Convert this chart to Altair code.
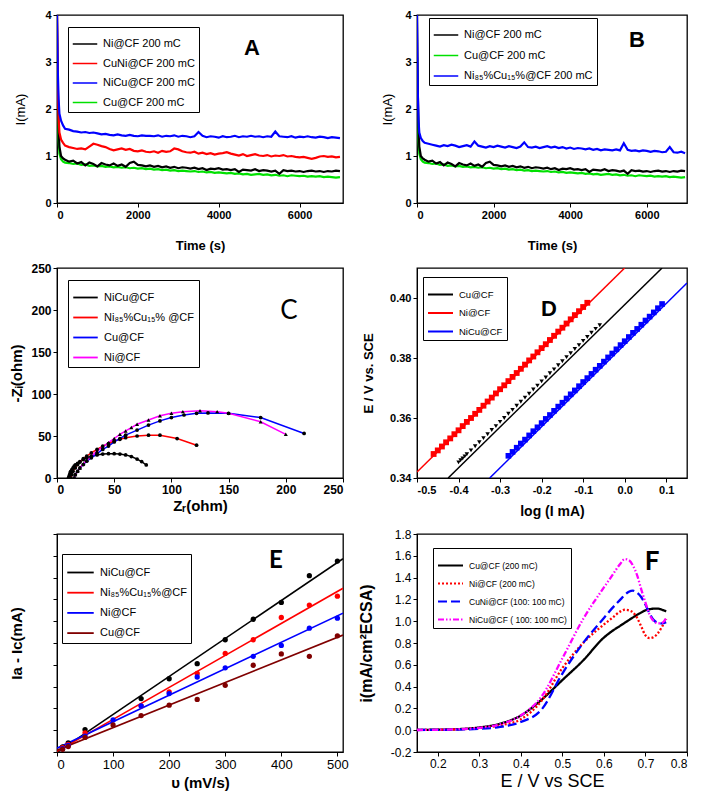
import altair as alt
import pandas as pd

FONT = "Liberation Sans"

# ---------------- Panel A / B : chronoamperometry ----------------
t_ab = [0, 20, 40, 60, 100, 150, 200] + list(range(300, 7001, 100))
ni_200 = [4.0, 2.4, 1.6, 1.2, 1.0, 0.95, 0.92,
          0.88, 0.90, 0.84, 0.87, 0.80, 0.86, 0.83, 0.78, 0.85, 0.82,
          0.80, 0.84, 0.79, 0.82, 0.77, 0.85, 0.88, 0.81, 0.80, 0.78,
          0.80, 0.77, 0.79, 0.76, 0.78, 0.75, 0.77, 0.74, 0.76, 0.75,
          0.73, 0.75, 0.72, 0.74, 0.70, 0.73, 0.72, 0.74, 0.71, 0.72,
          0.70, 0.72, 0.66, 0.71, 0.70, 0.69, 0.72, 0.68, 0.70, 0.69,
          0.67, 0.69, 0.62, 0.70, 0.68, 0.69, 0.67, 0.68, 0.66, 0.68,
          0.69, 0.67, 0.68, 0.66, 0.68, 0.67, 0.69, 0.68]
cu_200 = [3.1, 2.0, 1.35, 1.05, 0.93, 0.88, 0.86,
          0.85, 0.83, 0.84, 0.81, 0.82, 0.79, 0.80, 0.78, 0.79, 0.77,
          0.78, 0.76, 0.77, 0.75, 0.76, 0.74, 0.75, 0.73, 0.74, 0.72,
          0.73, 0.71, 0.72, 0.70, 0.71, 0.69, 0.70, 0.68, 0.69, 0.68,
          0.67, 0.68, 0.66, 0.67, 0.65, 0.66, 0.64, 0.65, 0.64, 0.63,
          0.64, 0.62, 0.63, 0.61, 0.62, 0.60, 0.61, 0.62, 0.60, 0.61,
          0.59, 0.60, 0.58, 0.59, 0.57, 0.59, 0.58, 0.57, 0.58, 0.56,
          0.57, 0.56, 0.57, 0.55, 0.56, 0.55, 0.54, 0.55]
cuni_200 = [4.0, 2.5, 1.8, 1.5, 1.35, 1.28, 1.22,
            1.19, 1.17, 1.15, 1.16, 1.14, 1.20, 1.26, 1.24, 1.21, 1.19,
            1.15, 1.12, 1.14, 1.16, 1.13, 1.15, 1.11, 1.10, 1.12, 1.09,
            1.08, 1.10, 1.07, 1.11, 1.09, 1.10, 1.16, 1.14, 1.10, 1.08,
            1.07, 1.09, 1.05, 1.07, 1.04, 1.06, 1.03, 1.05, 1.06, 1.08,
            1.05, 1.03, 1.01, 1.04, 1.00, 1.02, 1.04, 1.01, 1.00, 1.02,
            0.99, 1.01, 1.00, 1.02, 0.99, 1.00, 0.98, 0.97, 0.98, 0.96,
            0.94, 0.96, 0.99, 1.00, 0.98, 0.99, 0.97, 0.98]
nicu_200 = [4.0, 2.8, 2.2, 1.9, 1.75, 1.65, 1.58,
            1.56, 1.53, 1.52, 1.50, 1.51, 1.49, 1.50, 1.48, 1.46, 1.47,
            1.45, 1.44, 1.46, 1.44, 1.43, 1.45, 1.43, 1.42, 1.44, 1.43,
            1.43, 1.42, 1.44, 1.41, 1.43, 1.42, 1.44, 1.41, 1.43, 1.42,
            1.40, 1.42, 1.51, 1.43, 1.40, 1.42, 1.41, 1.39, 1.42, 1.40,
            1.41, 1.43, 1.40, 1.42, 1.41, 1.43, 1.41, 1.42, 1.40, 1.42,
            1.41, 1.52, 1.42, 1.41, 1.40, 1.42, 1.39, 1.41, 1.40, 1.42,
            1.40, 1.39, 1.41, 1.40, 1.38, 1.40, 1.39, 1.38]
ni85cu15_200 = [4.0, 2.4, 1.75, 1.5, 1.38, 1.32, 1.28,
                1.26, 1.24, 1.22, 1.20, 1.23, 1.21, 1.24, 1.22, 1.19, 1.21,
                1.23, 1.20, 1.31, 1.22, 1.20, 1.18, 1.21, 1.19, 1.22, 1.20,
                1.18, 1.21, 1.19, 1.17, 1.20, 1.29, 1.19, 1.18, 1.20, 1.17,
                1.19, 1.21, 1.18, 1.20, 1.17, 1.19, 1.16, 1.18, 1.15, 1.17,
                1.16, 1.14, 1.16, 1.13, 1.15, 1.12, 1.14, 1.13, 1.12, 1.14,
                1.12, 1.27, 1.13, 1.11, 1.12, 1.10, 1.12, 1.11, 1.09, 1.11,
                1.10, 1.08, 1.09, 1.19, 1.08, 1.07, 1.09, 1.06]

names_A = ["Ni@CF 200 mC", "CuNi@CF 200 mC", "NiCu@CF 200 mC", "Cu@CF 200 mC"]
colors_A = ["#000000", "#ff0000", "#0000ff", "#00e000"]
names_B = ["Ni@CF 200 mC", "Cu@CF 200 mC", "Ni\u2088\u2085%Cu\u2081\u2085%@CF 200 mC"]
colors_B = ["#000000", "#00e000", "#0000ff"]

# ---------------- Panel C : Nyquist ----------------
c_nicu_x = [10, 10.5, 11, 11.5, 12, 13, 14, 15, 16, 18, 20, 23, 26, 30, 35, 40, 45, 50, 55, 60, 65, 70, 74, 78]
c_nicu_y = [0, 2, 4, 6, 8, 10, 12, 14, 15.5, 17.5, 19.5, 22, 24, 26, 27.5, 28.5, 29, 29, 28.5, 27.5, 25.5, 22.5, 19.5, 15.5]
c_n85_x = [12, 13, 14, 16, 18, 20, 23, 26, 30, 35, 40, 45, 50, 55, 60, 70, 80, 90, 105, 122]
c_n85_y = [0, 4, 8, 12, 16, 19, 23, 26, 30, 34, 38, 41, 44, 46, 48, 50, 51, 51, 47, 39]
c_cu_x = [15, 16, 18, 20, 23, 26, 30, 35, 40, 45, 50, 55, 60, 70, 80, 90, 100, 111, 122, 132, 150, 178, 216]
c_cu_y = [0, 4, 8, 12, 16, 20, 24, 29, 34, 38, 43, 47, 51, 57, 63, 68, 72, 75, 77, 77.5, 77, 72, 53]
c_ni_x = [15, 16, 18, 20, 23, 26, 30, 35, 40, 45, 50, 55, 60, 65, 70, 80, 90, 100, 110, 125, 140, 150, 178, 200]
c_ni_y = [0, 4, 8, 12, 17, 21, 26, 32, 37, 42, 47, 52, 56, 60, 64, 69, 74, 77, 79, 80, 79, 77, 67, 52]
names_C = ["NiCu@CF", "Ni\u2088\u2085%Cu\u2081\u2085% @CF", "Cu@CF", "Ni@CF"]
colors_C = ["#000000", "#ff0000", "#0000ff", "#ff00ff"]

# ---------------- Panel D : Tafel ----------------
d_ni_x = [-0.46, -0.45, -0.44, -0.43, -0.42, -0.41, -0.40, -0.39, -0.38, -0.37, -0.36, -0.35, -0.34,
          -0.33, -0.32, -0.31, -0.30, -0.29, -0.28, -0.27, -0.26, -0.25, -0.24, -0.23, -0.22, -0.21,
          -0.20, -0.19, -0.18, -0.17, -0.16, -0.15, -0.14, -0.13, -0.12, -0.11, -0.10, -0.09]
d_ni_y = [0.3480, 0.3492, 0.3505, 0.3519, 0.3532, 0.3546, 0.3559, 0.3573, 0.3587, 0.3600, 0.3614, 0.3627, 0.3641,
          0.3655, 0.3668, 0.3682, 0.3696, 0.3709, 0.3723, 0.3737, 0.3750, 0.3764, 0.3778, 0.3792, 0.3805, 0.3819,
          0.3833, 0.3846, 0.3860, 0.3874, 0.3888, 0.3901, 0.3915, 0.3929, 0.3943, 0.3956, 0.3970, 0.3984]
d_cu_x = [-0.40, -0.395, -0.39, -0.385, -0.38, -0.37, -0.36, -0.35, -0.34, -0.33, -0.32, -0.31, -0.30, -0.29, -0.28,
          -0.27, -0.26, -0.25, -0.24, -0.23, -0.22, -0.21, -0.20, -0.19, -0.18, -0.17, -0.16, -0.15,
          -0.14, -0.13, -0.12, -0.11, -0.10, -0.09, -0.08, -0.07, -0.06]
d_cu_y = [0.3452, 0.3459, 0.3465, 0.3472, 0.3479, 0.3492, 0.3506, 0.3519, 0.3533, 0.3546, 0.3560, 0.3573, 0.3587,
          0.3600, 0.3614, 0.3627, 0.3641, 0.3654, 0.3668, 0.3681, 0.3695, 0.3708, 0.3722, 0.3735, 0.3749, 0.3762,
          0.3776, 0.3789, 0.3803, 0.3816, 0.3830, 0.3843, 0.3857, 0.3870, 0.3884, 0.3897, 0.3909]
d_nicu_x = [-0.28, -0.27, -0.26, -0.25, -0.24, -0.23, -0.22, -0.21, -0.20, -0.19, -0.18, -0.17, -0.16,
            -0.15, -0.14, -0.13, -0.12, -0.11, -0.10, -0.09, -0.08, -0.07, -0.06, -0.05, -0.04, -0.03,
            -0.02, -0.01, 0.00, 0.01, 0.02, 0.03, 0.04, 0.05, 0.06, 0.07, 0.08, 0.09]
d_nicu_y = [0.3474, 0.3487, 0.3501, 0.3515, 0.3528, 0.3542, 0.3556, 0.3569, 0.3583, 0.3597, 0.3610, 0.3624, 0.3638,
            0.3651, 0.3665, 0.3679, 0.3692, 0.3706, 0.3720, 0.3733, 0.3747, 0.3761, 0.3774, 0.3788, 0.3802, 0.3815,
            0.3829, 0.3843, 0.3856, 0.3870, 0.3884, 0.3897, 0.3911, 0.3925, 0.3938, 0.3952, 0.3966, 0.3980]
fit_cu_x, fit_cu_y = [-0.425, 0.09], [0.34, 0.41]
fit_ni_x, fit_ni_y = [-0.5, 0.0], [0.342, 0.41]
fit_nicu_x, fit_nicu_y = [-0.325, 0.15], [0.34, 0.405]
names_D = ["Cu@CF", "Ni@CF", "NiCu@CF"]
colors_D = ["#000000", "#ff0000", "#0000ff"]

# ---------------- Panel E : scan-rate dependence ----------------
e_v = [10, 20, 50, 100, 150, 200, 250, 300, 350, 400, 450, 500]
e_nicu = [0.23, 0.42, 1.03, None, 2.45, 3.36, 4.05, 5.15, 6.09, 6.86, 8.09, 8.76]
e_n85 = [0.20, 0.35, 0.88, None, 2.12, 2.76, 3.60, 4.52, 5.15, 6.17, 6.74, 7.15]
e_ni = [0.15, 0.30, 0.73, 1.47, 2.12, 2.68, 3.44, 3.86, 4.39, 4.89, 5.68, 6.14]
e_cu = [0.12, 0.25, 0.67, 1.24, 1.67, 2.15, 2.41, 3.06, 3.98, 4.50, 4.39, 5.33]
names_E = ["NiCu@CF", "Ni\u2088\u2085%Cu\u2081\u2085%@CF", "Ni@CF", "Cu@CF"]
colors_E = ["#000000", "#ff0000", "#0000ff", "#800000"]

# ---------------- Panel F : LSV ----------------
f_E = [0.15, 0.2, 0.25, 0.3, 0.35, 0.4, 0.45, 0.5, 0.55, 0.6, 0.62, 0.64, 0.65, 0.66, 0.67, 0.68,
       0.69, 0.7, 0.71, 0.72, 0.73, 0.74, 0.75]
f_cu = [0.003, 0.005, 0.01, 0.025, 0.06, 0.135, 0.28, 0.46, 0.64, 0.85, 0.91, 0.96, 0.985, 1.01, 1.035, 1.06,
        1.08, 1.10, 1.11, 1.115, 1.115, 1.105, 1.09]
f_ni = [0.002, 0.004, 0.008, 0.02, 0.045, 0.10, 0.27, 0.57, 0.80, 0.97, 1.03, 1.09, 1.105, 1.10, 1.08, 1.03,
        0.95, 0.87, 0.845, 0.855, 0.89, 0.95, 1.02]
f_cuni = [0.002, 0.003, 0.006, 0.012, 0.03, 0.075, 0.19, 0.52, 0.80, 1.03, 1.12, 1.20, 1.24, 1.27, 1.28, 1.26,
          1.22, 1.15, 1.07, 1.01, 0.985, 0.98, 0.99]
f_nicu = [0.002, 0.004, 0.009, 0.022, 0.055, 0.135, 0.31, 0.66, 1.02, 1.31, 1.42, 1.53, 1.57, 1.56, 1.51, 1.42,
          1.29, 1.17, 1.06, 1.00, 0.98, 0.985, 1.03]
names_F = ["Cu@CF (200 mC)", "Ni@CF (200 mC)", "CuNi@CF (100: 100 mC)", "NiCu@CF ( 100: 100 mC)"]
colors_F = ["#000000", "#ff0000", "#0000ff", "#ff00ff"]
dash_F = [[1, 0], [2, 2], [9, 4], [6, 2, 1.5, 2, 1.5, 2]]


# ---------------- helpers ----------------
def num_expr(fmt):
    return (f"datum.value < 0 ? '-' + format(-datum.value, '{fmt}') : "
            f"format(datum.value, '{fmt}')")


def axis(title, values, lsize, lbold, tsize, tbold, tpad, fmt=None, labels=True, tfont=FONT):
    kw = dict(title=title, values=values, labelFontSize=lsize,
              labelFontWeight="bold" if lbold else "normal",
              titleFontSize=tsize, titleFontWeight="bold" if tbold else "normal",
              titlePadding=tpad, titleFont=tfont, labelFont=FONT, grid=False,
              tickSize=4, labelPadding=2, labels=labels)
    if fmt:
        kw["labelExpr"] = num_expr(fmt)
    return alt.Axis(**kw)


def legend(x, y, fsize, ssize, swidth, rpad, pad=4):
    return alt.Legend(orient="none", legendX=x, legendY=y, title=None, strokeColor="black",
                      fillColor="white", padding=pad, labelFont=FONT, labelFontSize=fsize,
                      symbolType="stroke", symbolSize=ssize, symbolStrokeWidth=swidth,
                      rowPadding=rpad, labelOffset=5, cornerRadius=0, labelLimit=300)


def letter(ch, x, y, font, size, weight):
    return alt.Chart(pd.DataFrame({"L": [ch]})).mark_text(
        font=font, fontSize=size, fontWeight=weight, align="center", baseline="middle",
        color="black").encode(text="L:N", x=alt.value(x), y=alt.value(y))


def long_df(xs, ys, names, xk, yk, sk):
    rows = []
    for x_list, y_list, nm in zip(xs, ys, names):
        for a, b in zip(x_list, y_list):
            if b is not None:
                rows.append({xk: a, yk: b, sk: nm})
    return pd.DataFrame(rows)


WL, WR = 286, 270

# ---------------- Panel A ----------------
dfA = long_df([t_ab] * 4, [cu_200, ni_200, cuni_200, nicu_200],
              [names_A[3], names_A[0], names_A[1], names_A[2]], "t", "I", "sA")
panelA = alt.layer(
    alt.Chart(dfA).mark_line(strokeWidth=2.2, clip=True).encode(
        x=alt.X("t:Q", scale=alt.Scale(domain=[0, 7075], nice=False),
                axis=axis("Time (s)", [0, 2000, 4000, 6000], 11, True, 13, True, 19, fmt="d")),
        y=alt.Y("I:Q", scale=alt.Scale(domain=[0, 4], nice=False),
                axis=axis("I(mA)", [0, 1, 2, 3, 4], 11, True, 13, False, 17)),
        color=alt.Color("sA:N", scale=alt.Scale(domain=names_A, range=colors_A),
                        legend=legend(11, 12, 11, 600, 1.5, 1.5)),
        detail="sA:N"),
    letter("A", 195, 33, FONT, 22, "bold"),
).properties(width=WL, height=188)

# ---------------- Panel B ----------------
dfB = long_df([t_ab] * 3, [cu_200, ni_200, ni85cu15_200],
              [names_B[1], names_B[0], names_B[2]], "t", "I", "sB")
panelB = alt.layer(
    alt.Chart(dfB).mark_line(strokeWidth=2.2, clip=True).encode(
        x=alt.X("t:Q", scale=alt.Scale(domain=[0, 7050], nice=False),
                axis=axis("Time (s)", [0, 2000, 4000, 6000], 11, True, 13, True, 19, fmt="d")),
        y=alt.Y("I:Q", scale=alt.Scale(domain=[0, 4], nice=False),
                axis=axis("I(mA)", [0, 1, 2, 3, 4], 11, True, 13, False, 10)),
        color=alt.Color("sB:N", scale=alt.Scale(domain=names_B, range=colors_B),
                        legend=legend(12, 3, 11, 600, 1.5, 2.5)),
        detail="sB:N"),
    letter("B", 220, 25, FONT, 22, "bold"),
).properties(width=WR, height=188)

# ---------------- Panel C ----------------
dfC = long_df([c_nicu_x, c_n85_x, c_cu_x, c_ni_x], [c_nicu_y, c_n85_y, c_cu_y, c_ni_y],
              names_C, "zr", "zi", "sC")
xC = alt.X("zr:Q", scale=alt.Scale(domain=[0, 250], nice=False),
           axis=axis("Z\u1d63(ohm)", [0, 50, 100, 150, 200, 250], 12, True, 15, True, 3))
yC = alt.Y("zi:Q", scale=alt.Scale(domain=[0, 250], nice=False),
           axis=axis("-Z\u1d62(ohm)", [0, 50, 100, 150, 200, 250], 12, True, 15, True, 6))
panelC = alt.layer(
    alt.Chart(dfC).mark_line(strokeWidth=1.5, clip=True).encode(
        x=xC, y=yC,
        color=alt.Color("sC:N", scale=alt.Scale(domain=names_C, range=colors_C),
                        legend=legend(11, 12, 11, 600, 1.8, 1.0)),
        detail="sC:N"),
    alt.Chart(dfC).transform_filter(alt.datum.sC != names_C[3]).mark_point(
        filled=True, size=14, shape="circle", color="black", opacity=1, clip=True
    ).encode(x=xC, y=yC),
    alt.Chart(dfC).transform_filter(alt.datum.sC == names_C[3]).mark_point(
        filled=True, size=16, shape="triangle-up", color="black", opacity=1, clip=True
    ).encode(x=xC, y=yC),
    letter("C", 232, 43, "Lato", 26, "normal"),
).properties(width=WL, height=210)

# ---------------- Panel D ----------------
dfD_pts = long_df([d_cu_x, d_ni_x, d_nicu_x], [d_cu_y, d_ni_y, d_nicu_y], names_D, "lg", "E", "sD")
dfD_fit = long_df([fit_cu_x, fit_ni_x, fit_nicu_x], [fit_cu_y, fit_ni_y, fit_nicu_y],
                  names_D, "lg", "E", "sD")
xD = alt.X("lg:Q", scale=alt.Scale(domain=[-0.5, 0.15], nice=False, zero=False),
           axis=axis("log (I mA)", [-0.5, -0.4, -0.3, -0.2, -0.1, 0.0, 0.1], 11, True, 14, True, 9,
                     fmt=".1f"))
yD = alt.Y("E:Q", scale=alt.Scale(domain=[0.34, 0.41], nice=False, zero=False),
           axis=axis("E / V vs. SCE", [0.34, 0.36, 0.38, 0.40], 11, True, 13, True, 14, fmt=".2f"))
colD = alt.Color("sD:N", scale=alt.Scale(domain=names_D, range=colors_D),
                 legend=legend(6, 9, 9.5, 625, 2, 0.5, pad=4))
shapes_D = ["triangle-down", "square", "square"]
sizes_D = [20, 34, 32]
pts_D = [
    alt.Chart(dfD_pts).transform_filter(alt.datum.sD == nm).mark_point(
        filled=True, opacity=1, clip=True, shape=sh, size=sz, color=co
    ).encode(x=xD, y=yD)
    for nm, sh, sz, co in zip(names_D, shapes_D, sizes_D, colors_D)
]
panelD = alt.layer(
    alt.Chart(dfD_fit).mark_line(strokeWidth=1.5, clip=True).encode(x=xD, y=yD, color=colD,
                                                                   detail="sD:N"),
    *pts_D,
    letter("D", 132, 41, FONT, 22, "bold"),
).properties(width=WR, height=210)

# ---------------- Panel E ----------------
dfE = long_df([e_v] * 4, [e_nicu, e_n85, e_ni, e_cu], names_E, "v", "i", "sE")
xE = alt.X("v:Q", scale=alt.Scale(domain=[0, 510], nice=False),
           axis=axis("\u03c5 (mV/s)", [0, 100, 200, 300, 400, 500], 13, False, 15, True, 4))
yE = alt.Y("i:Q", scale=alt.Scale(domain=[0, 10], nice=False),
           axis=axis("Ia - Ic(mA)", list(range(0, 11)), 12, False, 15, True, 28, labels=False))
colE = alt.Color("sE:N", scale=alt.Scale(domain=names_E, range=colors_E),
                 legend=legend(5, 20, 11, 700, 1.8, 0.2, pad=4))
panelE = alt.layer(
    alt.Chart(dfE).transform_regression("v", "i", groupby=["sE"], extent=[0, 510]).mark_line(
        strokeWidth=1.6, clip=True).encode(x=xE, y=yE, color=colE, detail="sE:N"),
    alt.Chart(dfE).mark_circle(size=28, opacity=1, clip=True).encode(x=xE, y=yE, color=colE),
    letter("E", 219, 27, "Lato", 24, "bold"),
).properties(width=WL, height=218)

# ---------------- Panel F ----------------
dfF = long_df([f_E] * 4, [f_cu, f_ni, f_cuni, f_nicu], names_F, "pot", "j", "sF")
xF = alt.X("pot:Q", scale=alt.Scale(domain=[0.15, 0.8], nice=False, zero=False),
           axis=axis("E / V vs SCE", [0.2, 0.3, 0.4, 0.5, 0.6, 0.7, 0.8], 12, False, 18, False, 3,
                     fmt=".1f"))
yF = alt.Y("j:Q", scale=alt.Scale(domain=[-0.2, 1.8], nice=False, zero=False),
           axis=axis("i(mA/cm\u00b2ECSA)", [-0.2, 0.0, 0.2, 0.4, 0.6, 0.8, 1.0, 1.2, 1.4, 1.6, 1.8],
                     12, False, 16, True, 16, fmt=".1f"))
legF = legend(16, 14, 8.5, 625, 2, 0.0, pad=4)
panelF = alt.layer(
    alt.Chart(dfF).mark_line(strokeWidth=2.3, interpolate="monotone", clip=True).encode(
        x=xF, y=yF,
        color=alt.Color("sF:N", scale=alt.Scale(domain=names_F, range=colors_F), legend=legF),
        strokeDash=alt.StrokeDash("sF:N", scale=alt.Scale(domain=names_F, range=dash_F),
                                  legend=legF),
        detail="sF:N"),
    letter("F", 235, 28, "Lato", 26, "bold"),
).properties(width=WR, height=218)

chart = alt.concat(
    panelA, panelB, panelC, panelD, panelE, panelF, columns=2,
    spacing={"row": 8, "column": 8},
).resolve_scale(
    color="independent", strokeDash="independent"
).properties(
    padding={"left": 0, "right": 0, "top": 0, "bottom": 0}, background="white"
).configure_view(
    stroke="black", strokeWidth=1.3
).configure_axis(
    domainColor="black", tickColor="black", labelColor="black", titleColor="black",
    domainWidth=1, tickWidth=1
)

chart.save("out.html", embed_options={"renderer": "svg", "actions": False})
